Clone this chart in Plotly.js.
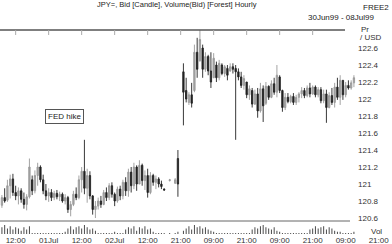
<!DOCTYPE html>
<html><head><meta charset="utf-8">
<script src="https://cdn.plot.ly/plotly-3.0.1.min.js"></script>
<style>html,body{margin:0;padding:0;background:#fff}#chart{width:392px;height:244px}</style>
</head><body><div id="chart"></div>
<script>
const opens = [120.75,120.84,120.81,120.98,121.06,120.90,120.86,120.92,120.82,120.76,
120.85,121.05,120.92,121.10,121.20,121.05,120.92,120.86,120.90,120.84,
120.89,120.85,120.88,120.80,120.84,120.70,120.76,120.88,120.84,121.05,
121.15,120.95,121.10,120.86,120.70,120.74,120.80,120.76,120.90,120.84,
120.98,120.88,120.80,120.94,120.86,121.02,120.92,121.14,120.98,121.20,
121.00,121.22,121.04,121.10,120.90,121.10,121.02,121.06,121.00,120.94,
null,121.04,null,121.01,121.30,null,122.32,122.10,121.96,122.05,
122.10,122.55,122.45,122.60,122.35,122.50,122.33,122.25,122.40,122.25,
122.40,122.30,122.36,122.33,122.38,122.36,122.32,122.26,122.16,122.20,
122.05,122.10,121.94,122.06,121.86,122.12,121.95,122.15,122.02,122.18,
122.08,122.26,122.10,121.90,122.02,121.97,122.03,121.96,122.02,122.06,
122.10,122.04,122.13,122.06,122.14,122.05,122.11,121.98,122.06,121.90,
122.04,121.96,122.14,122.02,122.22,122.05,122.16,122.13,122.19];
const highs = [120.87,120.95,121.05,121.11,121.12,120.98,120.96,120.95,120.90,120.88,
121.30,121.10,121.16,121.25,121.22,121.11,121.00,120.95,120.94,120.92,
120.93,120.91,120.90,120.88,120.86,120.80,120.92,120.96,121.10,121.20,
121.52,121.18,121.15,120.87,120.80,120.84,120.86,120.93,120.96,121.01,
121.02,120.90,120.97,120.98,121.05,121.08,121.18,121.20,121.25,121.22,
121.28,121.24,121.16,121.18,121.14,121.12,121.10,121.08,121.04,120.95,
null,121.06,null,121.07,121.40,null,122.42,122.25,122.08,122.19,
122.64,122.72,122.87,122.64,122.55,122.52,122.55,122.54,122.44,122.46,
122.42,122.40,122.40,122.42,122.42,122.40,122.36,122.32,122.28,122.20,
122.16,122.13,122.11,122.13,122.19,122.16,122.20,122.16,122.22,122.25,
122.40,122.28,122.11,122.07,122.07,122.05,122.07,122.05,122.08,122.14,
122.13,122.16,122.19,122.16,122.16,122.14,122.14,122.11,122.11,122.08,
122.13,122.19,122.25,122.28,122.22,122.20,122.22,122.22,122.28];
const lows = [120.72,120.78,120.79,120.83,120.86,120.81,120.76,120.78,120.71,120.69,
120.83,120.87,120.89,120.98,121.02,120.88,120.81,120.79,120.80,120.81,
120.82,120.80,120.78,120.76,120.66,120.62,120.74,120.81,120.82,120.90,
120.88,120.78,120.82,120.64,120.60,120.70,120.72,120.75,120.80,120.81,
120.84,120.74,120.78,120.81,120.82,120.86,120.85,120.90,120.94,120.92,
121.00,120.98,120.93,120.84,120.88,120.98,120.94,120.96,120.94,120.92,
null,121.03,null,121.00,120.85,null,121.69,121.96,121.93,121.90,
122.08,122.25,122.44,122.25,122.32,122.28,122.13,122.25,122.20,122.22,
122.28,122.26,122.22,122.32,122.30,121.52,122.22,122.13,122.11,122.01,
121.99,121.90,121.93,121.78,121.84,121.73,121.93,121.99,122.01,122.05,
122.02,122.07,121.85,121.87,121.95,121.95,121.93,121.93,121.96,122.01,
122.01,122.02,122.02,122.05,122.02,122.02,121.95,121.95,121.72,121.89,
121.93,121.90,121.99,121.93,121.99,122.02,122.11,122.11,122.14];
const closes = [120.84,120.80,120.98,121.06,120.90,120.86,120.92,120.82,120.76,120.85,
121.20,120.92,121.10,121.20,121.05,120.92,120.86,120.90,120.84,120.89,
120.85,120.88,120.80,120.84,120.70,120.76,120.88,120.84,121.05,121.15,
120.95,121.10,120.86,120.70,120.74,120.80,120.76,120.90,120.84,120.98,
120.88,120.80,120.94,120.86,121.02,120.92,121.14,120.98,121.20,121.00,
121.22,121.04,121.10,120.90,121.10,121.02,121.06,121.00,120.97,120.93,
null,121.05,null,121.05,121.00,null,122.08,122.00,122.05,121.95,
122.55,122.35,122.70,122.35,122.50,122.33,122.20,122.48,122.25,122.42,
122.30,122.38,122.28,122.38,122.35,122.32,122.26,122.16,122.24,122.05,
122.12,121.94,122.06,121.86,122.12,121.92,122.15,122.02,122.18,122.08,
122.28,122.10,121.90,122.02,121.97,122.03,121.96,122.02,122.06,122.10,
122.04,122.13,122.06,122.14,122.05,122.11,121.98,122.06,121.90,122.04,
121.96,122.14,122.02,122.22,122.05,122.16,122.13,122.19,122.25];
const volumes = [6,8,5,7,4,6,5,3,6,4,7,
1,1,1,1,1,1,1,1,1,1,1,1,
2,5,7,4,6,7,5,8,6,4,5,3,
1,1,1,1,1,1,2,1,1,1,
4,6,5,7,3,6,5,7,4,5,2,1,
1,1,1,0,1,0,1,2,0,3,
5,7,4,8,6,7,5,6,4,3,2,1,
1,1,1,1,1,1,1,1,1,1,1,1,
4,6,5,7,8,6,5,4,6,3,2,
1,1,1,1,1,1,1,1,1,1,
4,5,7,5,6,7,4,6,5,3,2,2,
1,1,1,1,2];
const tickIdx = [5,17,29,41,53,65,77,89,101,113,125,137];
const tickLabels = ['12:00','01Jul','12:00','02Jul','12:00','21:00','09:00','21:00','09:00','21:00','09:00','21:00'];
const priceTicks = [120.6,120.8,121,121.2,121.4,121.6,121.8,122,122.2,122.4,122.6];
const priceTickText = ['120.6','120.8','121','121.2','121.4','121.6','121.8','122','122.2','122.4','122.6'];

const idx = opens.map((_, i) => i);
const FONT = 'Liberation Sans, Arial, sans-serif';

const traces = [
  {type:'candlestick', x: idx, open: opens, high: highs, low: lows, close: closes,
   xaxis:'x', yaxis:'y', whiskerwidth:0,
   increasing:{line:{color:'#999999', width:0.9}, fillcolor:'#a8a8a8'},
   decreasing:{line:{color:'#222222', width:0.9}, fillcolor:'#222222'},
   hoverinfo:'skip'},
  {type:'bar', x: idx, y: volumes, xaxis:'x', yaxis:'y2',
   marker:{color:'#444'}, width:0.35, hoverinfo:'skip'}
];

const shapes = [
  {type:'line', xref:'paper', yref:'paper', x0:0, x1:345/392, y0:1, y1:1, line:{color:'#555', width:1.3}},
  {type:'line', xref:'paper', yref:'paper', x0:0, x1:350/392, y0:(234-221)/204, y1:(234-221)/204, line:{color:'#666', width:1}}
];
tickIdx.forEach(t => {
  if (t < 125) shapes.push({type:'line', xref:'x', yref:'paper', x0:t, x1:t, y0:1, y1:(234-35)/204, line:{color:'#aaa', width:1}});
});

const layout = {
  width:392, height:244,
  margin:{l:0, r:0, t:30, b:10},
  paper_bgcolor:'#fff', plot_bgcolor:'#fff',
  showlegend:false, hovermode:false,
  font:{family:FONT, size:8, color:'#333'},
  xaxis:{domain:[0,1], range:[-0.7, 141.85], anchor:'y2', rangeslider:{visible:false},
         tickmode:'array', tickvals:tickIdx, ticktext:tickLabels, ticks:'', showgrid:false,
         zeroline:false, showline:false, tickfont:{size:8, color:'#333', family:FONT}},
  yaxis:{domain:[(234-221)/204, 1], range:[120.565, 122.812], side:'right', anchor:'free',
         position:357/392, tickmode:'array', tickvals:priceTicks, ticktext:priceTickText,
         ticks:'', showgrid:false, zeroline:false, showline:false,
         tickfont:{size:8, color:'#333', family:FONT}},
  yaxis2:{domain:[0, 10/204], range:[0, 9], visible:false},
  shapes: shapes,
  annotations:[
    {xref:'paper', yref:'paper', x:177/392, y:(234-4)/204, text:'JPY=, Bid [Candle], Volume(Bid) [Forest] Hourly', showarrow:false, xanchor:'center', yanchor:'middle', font:{size:7.5, color:'#222'}},
    {xref:'paper', yref:'paper', x:361/392, y:(234-8)/204, text:'FREE2', showarrow:false, xanchor:'left', yanchor:'middle', font:{size:8, color:'#222'}},
    {xref:'paper', yref:'paper', x:376/392, y:(234-17)/204, text:'30Jun99 - 08Jul99', showarrow:false, xanchor:'right', yanchor:'middle', font:{size:8, color:'#222'}},
    {xref:'paper', yref:'paper', x:359/392, y:(234-29)/204, text:'Pr', showarrow:false, xanchor:'left', yanchor:'middle', font:{size:8, color:'#333'}},
    {xref:'paper', yref:'paper', x:358/392, y:(234-38)/204, text:'/ USD', showarrow:false, xanchor:'left', yanchor:'middle', font:{size:8, color:'#333'}},
    {xref:'paper', yref:'paper', x:369/392, y:(234-231)/204, text:'Vol', showarrow:false, xanchor:'left', yanchor:'middle', font:{size:8, color:'#333'}},
    {xref:'paper', yref:'paper', x:64.5/392, y:(234-116.5)/204, text:'FED hike', showarrow:false, xanchor:'center', yanchor:'middle',
     bordercolor:'#555', borderwidth:1, borderpad:2, bgcolor:'#fff', font:{size:8, color:'#222'}}
  ]
};
Plotly.newPlot('chart', traces, layout, {staticPlot:true, displayModeBar:false});
</script></body></html>
